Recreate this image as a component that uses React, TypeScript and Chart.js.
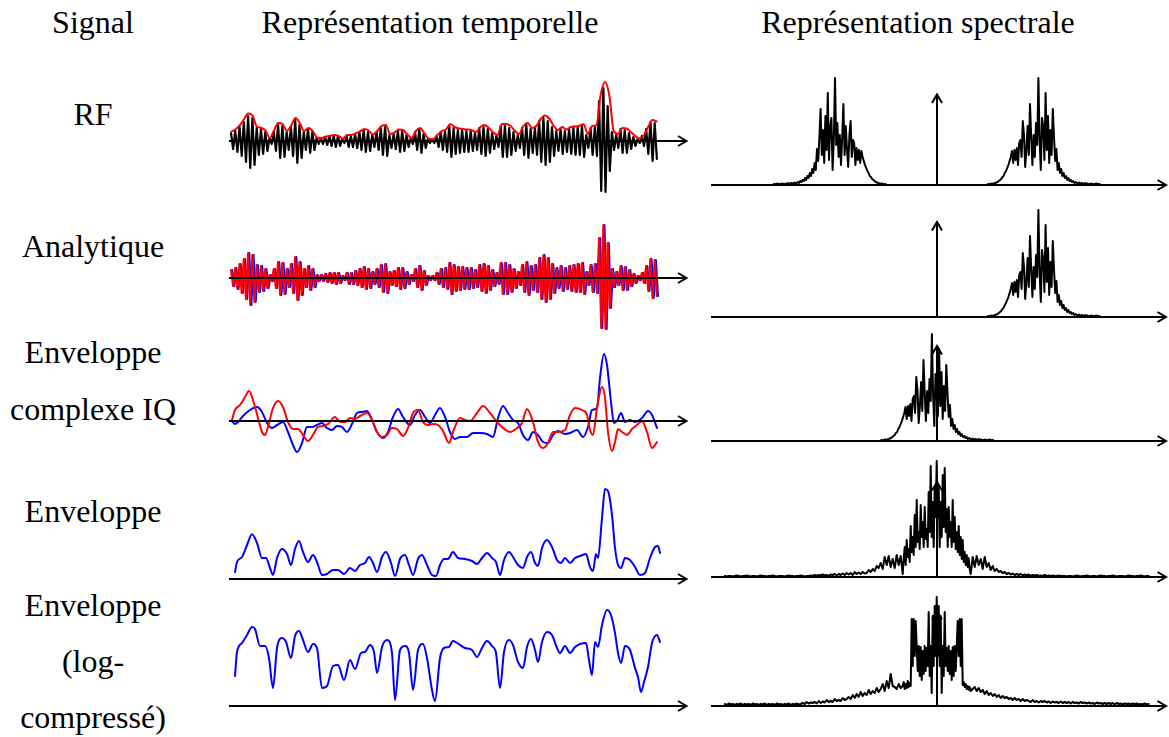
import React, { useEffect, useRef } from "react";
import { Chart, registerables } from "chart.js";

Chart.register(...registerables);

// ---------------- DATA ----------------
const headers = ["Signal", "Représentation temporelle", "Représentation spectrale"];
const rowLabels = [
  ["RF"],
  ["Analytique"],
  ["Enveloppe", "complexe IQ"],
  ["Enveloppe"],
  ["Enveloppe", "(log-", "compressé)"],
];

// RF signal (one + / - extremum per half cycle), time in samples
const rfStart = 1;
const rfStep = 2.14;
const rfSamples = [
  8, -8, 10, -11, 14, -15, 19, -21, 25, -27, 23, -24, 13, -14, 12, -13, 9, -10, 3, -3,
  9, -10, 16, -17, 15, -16, 9, -9, 14, -15, 21, -22, 16, -17, 9, -9, 12, -12, 9, -9,
  3, -3, 3, -3, 4, -4, 5, -5, 5, -6, 5, -5, 2, -2, 5, -6, 5, -6, 7, -7,
  9, -9, 11, -11, 9, -10, 6, -6, 9, -9, 13, -14, 14, -15, 6, -7, 7, -8, 10, -11,
  10, -10, 6, -6, 3, -3, 9, -9, 12, -12, 7, -7, 2, -2, 2, -2, 5, -6, 9, -9,
  10, -11, 15, -16, 13, -13, 11, -12, 11, -11, 10, -11, 10, -10, 8, -9, 13, -13, 14, -15,
  12, -12, 8, -8, 5, -6, 15, -16, 15, -16, 13, -14, 9, -10, 6, -7, 13, -14, 16, -17,
  12, -12, 13, -14, 20, -21, 23, -24, 20, -21, 14, -15, 10, -10, 12, -13, 10, -11, 12, -13,
  13, -14, 14, -14, 15, -16, 6, -7, 13, -14, 14, -15, 40, -50, 53, -51, 35, -30, 9, -9,
  6, -7, 12, -12, 11, -12, 8, -8, 4, -5, 2, -2, 5, -5, 12, -13, 19, -20, 18, -18,
];

// RF envelope (red)
const envStart = 1;
const envStep = 4.3;
const rfEnvelope = [
  9, 11.5, 15.5, 21.5, 27.5, 25.5, 14.5, 13.2, 10.6, 3,
  10.5, 18, 17, 10, 15.5, 23, 18, 10, 13, 10,
  3.5, 3, 4.3, 5.3, 6, 5.1, 2.2, 6, 6, 7.7,
  9.6, 12, 10.5, 6.5, 10, 15, 16, 7, 8.3, 11.5,
  11, 6.5, 3, 10, 13, 7.5, 2.3, 2, 6, 10,
  11.5, 17, 14, 12.5, 12, 11.5, 10.7, 9, 14, 16,
  13, 8.5, 6, 17, 17, 15, 10.4, 7, 15, 18,
  13, 15, 22, 25.5, 22.5, 15.5, 11, 14, 11.5, 14,
  14.5, 15.3, 16.8, 7.3, 15, 16, 47, 59, 45, 10,
  7, 13, 12.5, 9, 5, 2.5, 5.5, 14, 21, 19.5,
];

// Complex envelope IQ: [time, value]
const iqReal: [number, number][] = [
  [2, 1], [5, 11], [10, 16], [15, 24], [19, 30], [23, 21], [28, 3], [32, -11], [35, -14], [38, -6],
  [43, 13], [48, 20], [53, 14], [58, -1], [63, -8], [68, -8], [73, -14], [78, -20], [83, -14], [88, -6],
  [93, -5], [98, -3], [105, 4], [110, -1], [115, -1], [120, 3], [125, 2], [130, 5], [137, 8], [142, 1],
  [147, -11], [152, -16], [157, -14], [162, -7], [167, -8], [173, -15], [178, -7], [183, 8], [188, 11], [193, -1],
  [198, -4], [203, -3], [208, -4], [213, -10], [219, -22], [223, -11], [230, 3], [235, 1], [240, 0], [247, 8],
  [253, 15], [260, 8], [267, -1], [273, -7], [280, -11], [287, -7], [292, -2], [297, 12], [303, -1], [308, -21],
  [313, -27], [318, -22], [323, -11], [328, -11], [335, -9], [340, 6], [345, 13], [352, 11], [357, 6], [360, -9],
  [363, -14], [367, 13], [372, 34], [375, 23], [378, -11], [382, -30], [385, -21], [388, -8], [392, -11], [397, -14],
  [402, -8], [407, -4], [412, 0], [417, -11], [422, -27], [425, -24], [427, -21],
];
const iqImag: [number, number][] = [
  [2, 0], [5, -3], [8, -1], [13, 5], [20, 11], [27, 14], [32, 9], [37, -2], [42, -7], [47, -4],
  [53, -1], [58, -11], [63, -24], [67, -31], [72, -22], [77, -6], [82, -6], [87, -4], [92, -2], [97, -7],
  [102, -9], [107, -5], [112, -6], [117, -11], [122, -3], [127, 8], [132, 9], [137, 10], [142, 1], [147, -11],
  [153, -17], [158, -11], [163, 4], [168, 12], [173, 4], [180, -4], [185, 6], [190, 11], [195, 4], [200, -2],
  [205, 6], [210, 13], [215, 4], [220, -11], [225, -18], [230, -16], [237, -16], [243, -12], [250, -12], [257, -13],
  [263, -16], [268, 3], [273, 15], [278, 8], [283, 1], [288, -2], [293, -14], [298, -19], [303, -11], [308, -14],
  [313, -21], [318, -22], [323, -14], [328, -10], [335, -13], [340, -12], [347, -9], [353, -16], [358, -6], [362, 11],
  [367, 13], [370, 43], [374, 67], [377, 56], [381, 19], [384, -2], [387, 0], [391, 8], [395, -1], [400, 1],
  [405, -1], [412, 3], [418, 10], [422, 6], [427, -7],
];

// Envelope |IQ|
const envelope: [number, number][] = [
  [5, 7], [7, 17], [12, 22], [17, 34], [22, 44.7], [27, 36], [32, 21], [36, 21], [40, 11], [43, 4],
  [47, 21], [52, 30], [57, 25], [61, 14], [65, 30], [69, 38], [73, 27], [78, 17], [83, 24], [87, 17],
  [92, 4], [97, 5], [103, 9], [108, 9], [114, 5], [120, 11], [125, 8], [130, 14], [135, 16], [139, 22],
  [143, 16], [147, 7], [152, 22], [156, 27], [161, 16], [165, 3], [170, 20], [175, 24], [179, 14], [183, 4],
  [188, 20], [192, 24], [197, 14], [202, 4], [206, 3], [210, 14], [214, 20], [218, 20], [223, 27], [228, 21],
  [235, 20], [242, 18], [247, 15], [252, 21], [257, 26], [262, 21], [266, 17], [270, 4], [274, 19], [279, 27],
  [283, 22], [288, 14], [293, 11], [297, 22], [301, 27], [305, 16], [308, 13], [312, 31], [317, 39], [322, 32],
  [327, 19], [331, 16], [335, 21], [340, 16], [345, 21], [350, 23], [356, 25], [360, 12], [363, 8], [366, 25],
  [368, 21], [372, 61], [375, 90], [378, 88], [382, 64], [385, 31], [388, 14], [391, 11], [395, 21], [400, 19],
  [405, 12], [410, 4], [415, 6], [420, 21], [425, 32], [428, 33], [430, 26],
];

// Log-compressed envelope
const logEnvelope: [number, number][] = [
  [5, 30], [7, 54], [12, 63], [17, 71], [22, 79], [25, 77], [30, 60], [35, 60], [39, 48], [43, 18],
  [47, 58], [52, 68], [56, 64], [61, 48], [65, 70], [69, 75], [73, 66], [78, 54], [83, 62], [87, 58],
  [92, 18], [97, 20], [103, 40], [108, 41], [114, 26], [120, 46], [125, 37], [131, 53], [135, 54], [140, 61],
  [144, 54], [147, 33], [152, 59], [157, 66], [162, 53], [165, 6], [170, 56], [175, 60], [179, 53], [183, 16],
  [188, 56], [193, 62], [197, 48], [202, 16], [205, 5], [210, 48], [214, 58], [219, 59], [223, 65], [227, 63],
  [235, 58], [242, 56], [247, 49], [252, 58], [257, 65], [262, 60], [266, 53], [270, 18], [274, 54], [279, 66],
  [283, 61], [288, 44], [293, 38], [297, 59], [301, 67], [305, 56], [308, 44], [312, 64], [317, 74], [322, 71],
  [327, 58], [330, 53], [335, 60], [340, 53], [345, 59], [350, 62], [356, 63], [359, 46], [362, 31], [365, 64],
  [368, 59], [372, 81], [377, 96], [381, 91], [385, 73], [388, 53], [391, 43], [395, 60], [400, 56], [405, 38],
  [408, 29], [411, 14], [414, 24], [418, 39], [422, 63], [427, 71], [430, 64],
];

// Spectral lobe of the RF signal (magnitude), frequency step per bin
const lobeStep = 1.2;
const carrier = 106.5;
const spectrumLobe = [
  1, 0.5, 1, 1.5, 0.5, 1, 1, 1.5, 1, 0.5, 1.5, 1, 2, 1, 1.5, 2, 1, 2.5, 1.5, 2, 3,
  2, 4, 3, 5, 4, 7, 5, 9, 7, 12,
  9, 16, 12, 22, 15, 36, 24, 48,
  76, 30, 55, 22, 69, 35, 92, 25, 58, 67,
  15, 45, 107, 40, 62, 28, 50, 20, 48, 81,
  30, 59, 35, 18, 50, 64, 28, 45, 42, 20,
  37, 25, 35, 22, 34, 28, 24, 20, 17, 14,
  12, 9,
  8, 6, 5, 4, 3, 2.5, 2, 1.5, 1, 1.5, 1, 0.5, 1, 0,
];

// Envelope spectra: coarse tails (step 2) and fine core (step 1), centred on 0
const tailStep = 2;
const coreStep = 1;
const envSpecLeft = [
  1, 0.5, 1, 1, 0.5, 1, 1.5, 1, 0.5, 1, 1, 1.5, 1, 0.5, 1, 1, 0.5, 1, 1.5, 1,
  1, 0.5, 1, 1, 1.5, 1, 0.5, 1, 1, 1, 0.5, 1, 1.5, 1, 1, 0.5, 1, 1, 1.5, 1,
  0.5, 1, 1,
  1.5, 1, 2, 1, 2, 1.5, 2.5, 1.5, 2, 1, 2.5, 2, 3, 1.5, 3, 2, 3.5, 2, 4, 2.5,
  4, 2, 5, 3, 4.5, 3, 5, 3.5,
  4, 7, 5, 8, 6, 11, 9, 14, 8, 20, 12, 21, 10, 18, 9, 22, 12, 21,
];
const envSpecCore = [
  3, 18, 30, 12, 37, 20, 28, 15, 51, 25, 40, 22, 62, 30, 77, 35, 45, 28, 72, 40,
  55, 30, 70, 38, 48, 30, 85, 45, 111, 40, 75, 30, 90, 60, 116, 60, 90, 30, 75, 40,
  102, 50, 109, 45, 68, 30, 70, 40, 55, 30, 77, 35, 60, 28, 45, 25, 51, 22, 40, 18,
  37, 15, 25, 12, 22, 10, 19, 8, 3,
];
const envSpecRight = [
  20, 10, 21, 12, 18, 8, 20, 10, 14, 7, 11, 6, 8, 5, 6, 4, 5, 3,
  4, 2.5, 3.5, 2, 3, 2, 3, 1.5, 2.5, 1.5, 2.5, 1, 2, 1.5, 2, 1, 1.5, 1, 2, 1,
  1.5, 1, 1.5, 1, 1, 1.5, 1, 1,
  1, 0.5, 1, 1, 0.5, 1, 1.5, 1, 0.5, 1, 1, 1.5, 1, 0.5, 1, 1, 0.5, 1, 1.5, 1,
  1, 0.5, 1, 1, 1.5, 1, 0.5, 1, 1, 1, 0.5, 1, 1.5, 1, 1, 0.5, 1, 1, 1.5, 1,
  0.5, 1, 1,
];
const logSpecLeft = [
  2, 1, 2.5, 1.5, 2, 1, 2, 1.5, 2.5, 1, 2, 1.5, 2, 1, 2.5, 1.5, 2, 1, 2, 1.5,
  2.5, 1, 2, 1.5, 2, 1, 2.5, 1.5, 2, 1, 2, 1.5, 2.5, 1, 2, 1.5, 2.5, 1.5,
  2, 3, 2, 4, 2.5, 3.5, 3, 4, 2.5, 5, 3, 4.5, 3.5, 6, 4, 5, 4, 7, 5, 6, 5, 8, 6, 7,
  9, 7, 11, 8, 12, 9, 14, 10, 13, 11, 16, 12, 15, 13, 18, 14, 17, 22, 15, 25, 18, 32, 20, 19, 17,
  22, 18,
];
const logSpecCore = [
  20, 24, 17, 22, 18, 25, 19, 23, 20, 87, 40, 87, 50, 85, 59, 35, 60, 30, 59, 26,
  55, 32, 60, 35, 58, 40, 94, 30, 60, 13, 90, 40, 100, 50, 109, 50, 100, 40, 90, 13,
  60, 30, 94, 40, 58, 35, 60, 32, 55, 26, 59, 30, 60, 35, 59, 85, 50, 87, 40, 87,
  21, 24, 19, 22, 17, 20, 16, 19, 15,
];
const logSpecRight = [
  17, 19, 15,
  18, 14, 16, 12, 15, 11, 13, 10, 12, 9, 11, 8, 10, 8, 9, 7, 8, 6, 8, 6, 7, 5, 7, 5, 6,
  5, 4, 6, 4, 5, 3.5, 5, 4, 5, 3.5, 4.5, 3, 4.5, 3.5, 4, 3, 4.5, 3, 4, 3,
  4, 2.5, 4, 3, 3.5, 2.5, 4, 3, 3.5, 2.5, 3.5, 2.5, 3, 2, 3.5, 2.5, 3, 2, 3, 2,
  3, 2, 3, 1.5, 3, 2, 2.5, 1.5, 2.5, 2, 2.5, 1.5, 2.5, 1.5, 2.5, 1.5, 2, 1.5, 2.5, 1.5,
  2,
];

// ---------------- helpers ----------------
type Pt = { x: number; y: number };
const uniform = (vals: number[], start: number, step: number): Pt[] =>
  vals.map((v, i) => ({ x: start + i * step, y: v }));
const pairs = (arr: [number, number][]): Pt[] => arr.map(([x, y]) => ({ x, y }));
const mid = (spectrumLobe.length - 1) / 2;
const lobe = (center: number, dir: number): Pt[] => {
  const p = spectrumLobe.map((v, i) => ({ x: center + dir * (i - mid) * lobeStep, y: v }));
  return dir < 0 ? p.reverse() : p;
};
const spectrum = (left: number[], core: number[], right: number[]): Pt[] => {
  const half = ((core.length - 1) / 2) * coreStep;
  const l = left.map((v, i) => ({ x: -half - tailStep * (left.length - i), y: v }));
  const c = core.map((v, i) => ({ x: -half + i * coreStep, y: v }));
  const r = right.map((v, i) => ({ x: half + tailStep * (i + 1), y: v }));
  return [...l, ...c, ...r];
};

const RED = "#ff0000";
const BLUE = "#0000ff";
const BLACK = "#000000";

const line = (data: Pt[], color: string, smooth = false, width = 2) => ({
  data,
  borderColor: color,
  borderWidth: width,
  pointRadius: 0,
  fill: false,
  borderJoinStyle: "round",
  borderCapStyle: "round",
  tension: smooth ? 0.4 : 0,
  cubicInterpolationMode: smooth ? "monotone" : "default",
});

const axisArrows = {
  id: "axisArrows",
  afterDatasetsDraw(chart: any, _a: any, opts: any) {
    const { ctx } = chart;
    const xs = chart.scales.x;
    const ys = chart.scales.y;
    const y0 = Math.round(ys.getPixelForValue(0));
    const xa = xs.getPixelForValue(opts.from);
    const xt = xs.getPixelForValue(opts.to);
    ctx.save();
    ctx.strokeStyle = BLACK;
    ctx.lineWidth = 2;
    ctx.lineCap = "butt";
    ctx.lineJoin = "miter";
    ctx.beginPath();
    ctx.moveTo(xa, y0);
    ctx.lineTo(xt, y0);
    ctx.stroke();
    ctx.beginPath();
    ctx.moveTo(xt - 8.5, y0 - 5);
    ctx.lineTo(xt, y0);
    ctx.lineTo(xt - 8.5, y0 + 5);
    ctx.stroke();
    if (opts.up != null) {
      const xc = Math.round(xs.getPixelForValue(0));
      const yt = ys.getPixelForValue(opts.up);
      ctx.beginPath();
      ctx.moveTo(xc, y0);
      ctx.lineTo(xc, yt);
      ctx.stroke();
      ctx.beginPath();
      ctx.moveTo(xc - 5, yt + 8.5);
      ctx.lineTo(xc, yt);
      ctx.lineTo(xc + 5, yt + 8.5);
      ctx.stroke();
    }
    ctx.restore();
  },
};

type Spec = {
  left: number; top: number; w: number; h: number;
  xMin: number; xMax: number; yMin: number; yMax: number;
  from: number; to: number; up?: number;
  datasets: any[];
};

function Panel({ spec }: { spec: Spec }) {
  const ref = useRef<HTMLCanvasElement>(null);
  useEffect(() => {
    const chart = new Chart(ref.current as HTMLCanvasElement, {
      type: "line",
      data: { datasets: spec.datasets },
      options: {
        animation: false,
        responsive: false,
        maintainAspectRatio: false,
        events: [],
        layout: { padding: 0 },
        plugins: {
          legend: { display: false },
          tooltip: { enabled: false },
          axisArrows: { from: spec.from, to: spec.to, up: spec.up },
        } as any,
        scales: {
          x: { type: "linear", display: false, min: spec.xMin, max: spec.xMax },
          y: { type: "linear", display: false, min: spec.yMin, max: spec.yMax },
        },
      },
      plugins: [axisArrows as any],
    } as any);
    return () => chart.destroy();
  }, []);
  return (
    <canvas
      ref={ref}
      width={spec.w}
      height={spec.h}
      style={{ position: "absolute", left: spec.left, top: spec.top, width: spec.w, height: spec.h }}
    />
  );
}

// temporal panels: x in samples, spectral: x in bins
const T = { left: 229, w: 460, xMin: -1, xMax: 459, from: -1, to: 456.5 };
const S = { left: 711, w: 458, xMin: -225.7, xMax: 232.3, from: -225.7, to: 229.3 };
const SW = 2;

const panels: Spec[] = [
  { ...T, top: 60, h: 140, yMin: -59, yMax: 81, datasets: [
    line(uniform(rfEnvelope, envStart, envStep), RED, true),
    line(uniform(rfSamples, rfStart, rfStep), BLACK, false, 2.2),
  ] },
  { ...T, top: 200, h: 140, yMin: -62, yMax: 78, datasets: [
    line(uniform(rfSamples, rfStart, rfStep), RED, false, 2.2),
    line(uniform(rfSamples, rfStart + rfStep / 2, rfStep), BLUE, false, 2.2),
  ] },
  { ...T, top: 340, h: 120, yMin: -39, yMax: 81, datasets: [
    line(pairs(iqReal), RED, true),
    line(pairs(iqImag), BLUE, true),
  ] },
  { ...T, top: 460, h: 130, yMin: -11, yMax: 119, datasets: [
    line(pairs(envelope), BLUE, true),
  ] },
  { ...T, top: 590, h: 130, yMin: -14, yMax: 116, datasets: [
    line(pairs(logEnvelope), BLUE, true),
  ] },
  { ...S, top: 60, h: 135, yMin: -10, yMax: 125, up: 90.5, datasets: [
    line(lobe(-carrier, 1), BLACK, false, SW),
    line(lobe(carrier, -1), BLACK, false, SW),
  ] },
  { ...S, top: 195, h: 132, yMin: -10, yMax: 122, up: 95, datasets: [
    line(lobe(carrier, -1), BLACK, false, SW),
  ] },
  { ...S, top: 327, h: 124, yMin: -10, yMax: 114, up: 95, datasets: [
    line(lobe(0, -1), BLACK, false, SW),
  ] },
  { ...S, top: 451, h: 136, yMin: -10, yMax: 126, up: 95, datasets: [
    line(spectrum(envSpecLeft, envSpecCore, envSpecRight), BLACK, false, SW),
  ] },
  { ...S, top: 587, h: 129, yMin: -10, yMax: 119, up: 95, datasets: [
    line(spectrum(logSpecLeft, logSpecCore, logSpecRight), BLACK, false, SW),
  ] },
];

const FONT = '"Liberation Serif", "Times New Roman", serif';
const FS = 32;
const ASC = 0.8375 * FS;

function Label({ text, cx, baseline }: { text: string; cx: number; baseline: number }) {
  return (
    <div
      style={{
        position: "absolute",
        left: cx - 300,
        width: 600,
        top: baseline - ASC,
        textAlign: "center",
        fontFamily: FONT,
        fontSize: FS,
        lineHeight: 1,
        whiteSpace: "nowrap",
        color: "#000",
      }}
    >
      {text}
    </div>
  );
}

const headerX = [93, 430, 918];
const labelBaselines = [[125], [257], [363, 420], [522], [616, 672, 728]];

export default function App() {
  return (
    <div style={{ position: "absolute", left: 0, top: 0, width: 1169, height: 737, background: "#fff", overflow: "hidden" }}>
      {headers.map((h, i) => (
        <Label key={"h" + i} text={h} cx={headerX[i]} baseline={33} />
      ))}
      {rowLabels.map((lines, r) =>
        lines.map((t, j) => <Label key={r + "-" + j} text={t} cx={93} baseline={labelBaselines[r][j]} />)
      )}
      {panels.map((p, i) => (
        <Panel key={i} spec={p} />
      ))}
    </div>
  );
}
